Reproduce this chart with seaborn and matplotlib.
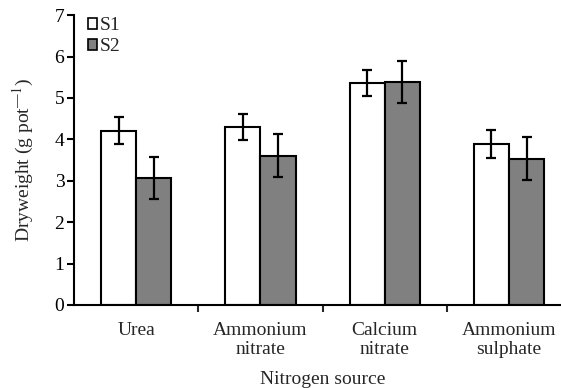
import pandas as pd
import matplotlib
matplotlib.use("Agg")
import matplotlib.pyplot as plt
import seaborn as sns
from matplotlib.patches import Patch

# --- DATA ---
sources = ["Urea", "Ammonium\nnitrate", "Calcium\nnitrate", "Ammonium\nsulphate"]
s1_mean = [4.21, 4.30, 5.36, 3.89]
s2_mean = [3.06, 3.60, 5.39, 3.53]
s1_err = [0.32, 0.32, 0.32, 0.33]
s2_err = [0.51, 0.52, 0.51, 0.52]

df = pd.DataFrame({
    "source": sources * 2,
    "series": ["S1"] * 4 + ["S2"] * 4,
    "dryweight": s1_mean + s2_mean,
    "err": s1_err + s2_err,
})

# --- STYLE ---
sns.set_style("ticks")
plt.rcParams["font.family"] = ["Liberation Serif", "DejaVu Serif"]
plt.rcParams["mathtext.fontset"] = "stix"
FS = 14

fig = plt.figure(figsize=(5.61, 3.88), dpi=100)
ax = fig.add_axes([0.132, 0.214, 0.886, 0.747])

sns.barplot(data=df, x="source", y="dryweight", hue="series",
            palette=["white", "#808080"], edgecolor="black", linewidth=1.5,
            width=0.565, gap=0, errorbar=None, ax=ax, legend=False)

# error bars on each bar
bars = ax.patches[:len(df)]
for bar, (_, row) in zip(bars, df.iterrows()):
    cx = bar.get_x() + bar.get_width() / 2
    ax.errorbar(cx, row["dryweight"], yerr=row["err"], color="black",
                elinewidth=1.6, capsize=3.6, capthick=1.6, fmt="none", zorder=5)

ax.set_ylim(0, 7)
ax.set_xlim(-0.5, 3.5)
ax.set_yticks(range(0, 8))
ax.tick_params(axis="y", direction="out", length=5, width=1.5, labelsize=FS,
               colors="black", pad=2)
ax.tick_params(axis="x", which="major", length=0, labelsize=FS, pad=12)
ax.set_xticks([0.5, 1.5, 2.5], minor=True)
ax.tick_params(axis="x", which="minor", direction="out", length=5, width=1.5)
for lab in ax.get_xticklabels():
    lab.set_linespacing(1.2)

ax.set_xlabel("Nitrogen source", fontsize=FS, labelpad=9)
ax.set_ylabel("Dryweight (g pot$^{\u2014 1}$)", fontsize=FS, labelpad=13)
sns.despine(ax=ax)
for sp in ["left", "bottom"]:
    ax.spines[sp].set_linewidth(1.5)
    ax.spines[sp].set_color("black")

handles = [Patch(facecolor="white", edgecolor="black", linewidth=1.2),
           Patch(facecolor="#808080", edgecolor="black", linewidth=1.2)]
ax.legend(handles, ["S1", "S2"], loc="upper left", bbox_to_anchor=(0.0, 1.04),
          frameon=False, fontsize=FS, handlelength=0.5, handleheight=0.5,
          handletextpad=0.1, labelspacing=0.2, borderaxespad=0.3)

fig.savefig("out.png", dpi=100)
